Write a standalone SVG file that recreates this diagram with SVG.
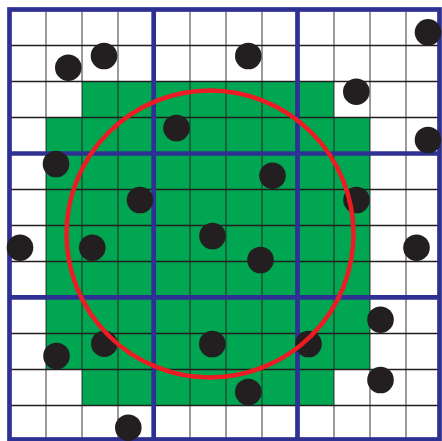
<svg xmlns="http://www.w3.org/2000/svg" width="442" height="441" viewBox="0 0 442 441">
<style>
.v{stroke:#231f20;stroke-opacity:0.65;stroke-width:1.4}
.h{stroke:#231f20;stroke-width:1.4}
.thick{stroke:#2e3192;stroke-width:4.7;fill:none}
.dot{fill:#231f20}
</style>
<rect width="442" height="441" fill="#ffffff"/>
<g id="region">
<path d="M82 82H334V118H370V370H334V406H82V370H46V118H82Z" fill="#00a651"/>
</g>
<g id="grid">
<g class="v">
<line x1="46" y1="9.5" x2="46" y2="439.5"/>
<line x1="82" y1="9.5" x2="82" y2="439.5"/>
<line x1="118" y1="9.5" x2="118" y2="439.5"/>
<line x1="190" y1="9.5" x2="190" y2="439.5"/>
<line x1="226" y1="9.5" x2="226" y2="439.5"/>
<line x1="262" y1="9.5" x2="262" y2="439.5"/>
<line x1="334" y1="9.5" x2="334" y2="439.5"/>
<line x1="370" y1="9.5" x2="370" y2="439.5"/>
<line x1="406" y1="9.5" x2="406" y2="439.5"/>
</g>
<g class="h">
<line x1="9.5" y1="45.5" x2="439.5" y2="45.5"/>
<line x1="9.5" y1="81.5" x2="439.5" y2="81.5"/>
<line x1="9.5" y1="117.5" x2="439.5" y2="117.5"/>
<line x1="9.5" y1="189.5" x2="439.5" y2="189.5"/>
<line x1="9.5" y1="225.5" x2="439.5" y2="225.5"/>
<line x1="9.5" y1="261.5" x2="439.5" y2="261.5"/>
<line x1="9.5" y1="333.5" x2="439.5" y2="333.5"/>
<line x1="9.5" y1="369.5" x2="439.5" y2="369.5"/>
<line x1="9.5" y1="405.5" x2="439.5" y2="405.5"/>
</g>
<g class="thick">
<rect x="9.5" y="9.5" width="430" height="430"/>
<line x1="153.7" y1="9.5" x2="153.7" y2="439.5"/>
<line x1="297.5" y1="9.5" x2="297.5" y2="439.5"/>
<line x1="9.5" y1="153.5" x2="439.5" y2="153.5"/>
<line x1="9.5" y1="297.3" x2="439.5" y2="297.3"/>
</g>
</g>
<g id="points" class="dot">
<circle cx="68.3" cy="67.7" r="13.3"/>
<circle cx="104" cy="56" r="13.3"/>
<circle cx="248.3" cy="56" r="13.3"/>
<circle cx="428" cy="32.3" r="13.3"/>
<circle cx="356.3" cy="91.7" r="13.3"/>
<circle cx="428" cy="140" r="13.3"/>
<circle cx="176.5" cy="128" r="13.3"/>
<circle cx="56" cy="164" r="13.3"/>
<circle cx="272.5" cy="175.7" r="13.3"/>
<circle cx="140" cy="200" r="13.3"/>
<circle cx="356.5" cy="200" r="13.3"/>
<circle cx="20" cy="247.7" r="13.3"/>
<circle cx="92.3" cy="247.7" r="13.3"/>
<circle cx="212.5" cy="236" r="13.3"/>
<circle cx="260.5" cy="260" r="13.3"/>
<circle cx="416.5" cy="247.7" r="13.3"/>
<circle cx="380.5" cy="319.7" r="13.3"/>
<circle cx="56.5" cy="356" r="13.3"/>
<circle cx="104.3" cy="343.7" r="13.3"/>
<circle cx="212.3" cy="344" r="13.3"/>
<circle cx="308.5" cy="344" r="13.3"/>
<circle cx="380.5" cy="380" r="13.3"/>
<circle cx="248.3" cy="392" r="13.3"/>
<circle cx="128.3" cy="427.7" r="13.3"/>
</g>
<g id="range">
<circle cx="210" cy="234" r="143.5" fill="none" stroke="#ed1c24" stroke-width="4.5"/>
</g>
</svg>
